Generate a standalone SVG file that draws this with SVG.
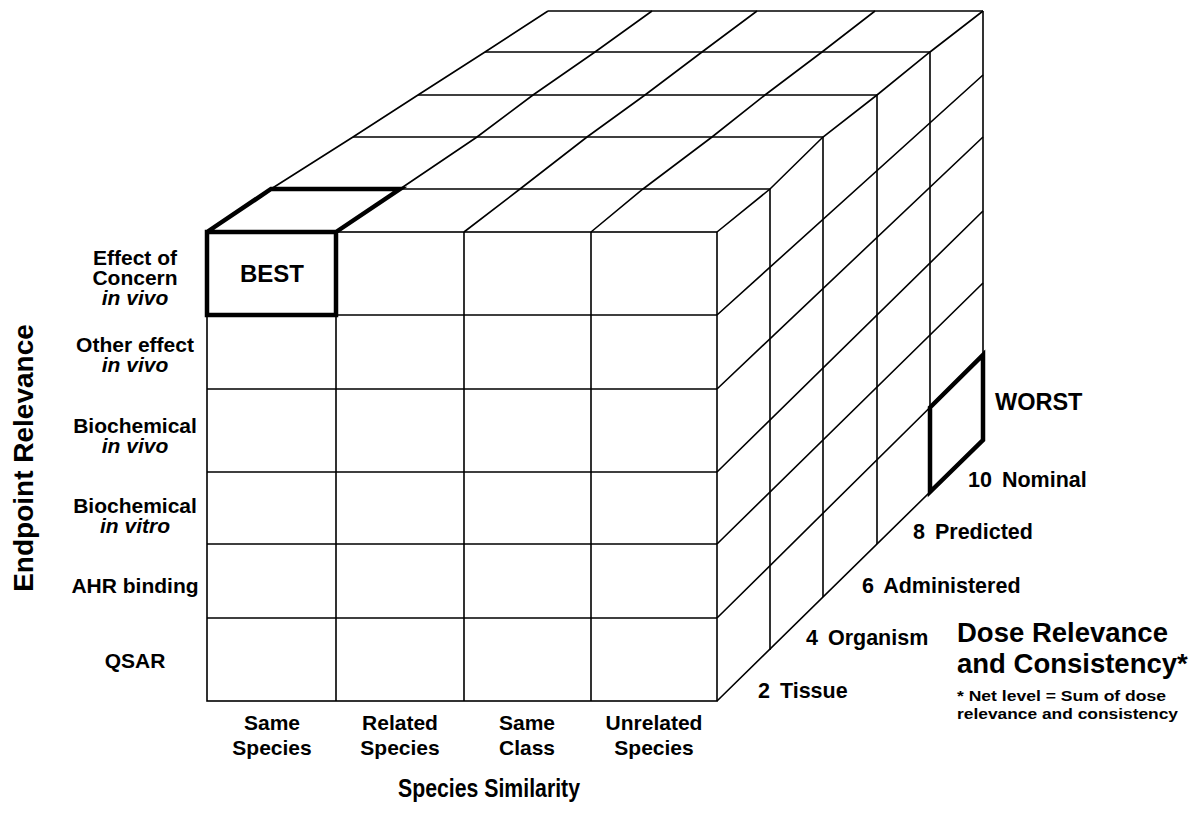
<svg xmlns="http://www.w3.org/2000/svg" width="1192" height="826" viewBox="0 0 1192 826">
<style>
.ln{fill:none;stroke:#000;stroke-width:1.6;stroke-linejoin:miter}
.thk{fill:none;stroke:#000;stroke-width:4.5;stroke-linejoin:miter}
text{font-family:"Liberation Sans",Arial,Helvetica,sans-serif;font-weight:bold;fill:#000}
.lab{font-size:21px;text-anchor:middle}
.it{font-style:italic}
.dose{font-size:21.5px;word-spacing:4px}
</style>
<rect width="1192" height="826" fill="#fff"/>
<g id="connectors">
<g id="front-face">
<rect class="ln" x="207" y="232" width="510" height="469"/>
<path class="ln" d="M207 315H717M207 389H717M207 472H717M207 544H717M207 618H717"/>
<path class="ln" d="M336 232V701M464 232V701M591 232V701"/>
</g>
<g id="top-face">
<path class="ln" d="M271 189H770M353 137H823M418 95H877M485 52H930M548 11H983"/>
<polyline class="ln" points="207,232 271,189 353,137 418,95 485,52 548,11"/>
<polyline class="ln" points="336,232 400,189 477,137 533,95 595,52 652,11"/>
<polyline class="ln" points="464,232 520,189 587,137 645,95 702,52 757,11"/>
<polyline class="ln" points="591,232 643,189 712,137 765,95 822,52 875,11"/>
<polyline class="ln" points="717,232 770,189 823,137 877,95 930,52 983,11"/>
</g>
<g id="right-face">
<path class="ln" d="M770 189V650M823 137V597M877 95V544M930 52V492M983 11V440"/>
<path class="ln" d="M717 315L983 75M717 389L983 137M717 472L983 211M717 544L983 283M717 618L983 355M717 701L983 440"/>
</g>
</g>
<g id="best">
<path class="thk" d="M207 232H336V315H207Z M207 232L271 189H400L336 232"/>
<text x="272" y="282" style="font-size:24px" text-anchor="middle">BEST</text>
</g>
<g id="worst">
<path class="thk" d="M930 407.5L983 355V440L930 492Z"/>
<text x="995" y="410" style="font-size:23.5px">WORST</text>
</g>
<g id="endpoint-labels">
<text class="lab" x="135" y="265">Effect of</text>
<text class="lab" x="135" y="285">Concern</text>
<text class="lab it" x="135" y="305">in vivo</text>
<text class="lab" x="135" y="352">Other effect</text>
<text class="lab it" x="135" y="372">in vivo</text>
<text class="lab" x="135" y="433">Biochemical</text>
<text class="lab it" x="135" y="453">in vivo</text>
<text class="lab" x="135" y="513">Biochemical</text>
<text class="lab it" x="135" y="533">in vitro</text>
<text class="lab" x="135" y="593">AHR binding</text>
<text class="lab" x="135" y="668">QSAR</text>
</g>
<g id="species-labels">
<text class="lab" x="272" y="730">Same</text>
<text class="lab" x="272" y="755">Species</text>
<text class="lab" x="400" y="730">Related</text>
<text class="lab" x="400" y="755">Species</text>
<text class="lab" x="527" y="730">Same</text>
<text class="lab" x="527" y="755">Class</text>
<text class="lab" x="654" y="730">Unrelated</text>
<text class="lab" x="654" y="755">Species</text>
</g>
<g id="dose-labels">
<text class="dose" x="968" y="487">10 Nominal</text>
<text class="dose" x="913" y="539">8 Predicted</text>
<text class="dose" x="862" y="593">6 Administered</text>
<text class="dose" x="806" y="645">4 Organism</text>
<text class="dose" x="758" y="698">2 Tissue</text>
</g>
<g id="axis-titles">
<text x="398" y="797" style="font-size:26px" textLength="182" lengthAdjust="spacingAndGlyphs">Species Similarity</text>
<text transform="translate(33 458) rotate(-90)" style="font-size:28px" text-anchor="middle">Endpoint Relevance</text>
<text x="957" y="642" style="font-size:27.5px">Dose Relevance</text>
<text x="957" y="673" style="font-size:27.5px">and Consistency*</text>
<text x="957" y="701" style="font-size:15px" textLength="209" lengthAdjust="spacingAndGlyphs">* Net level = Sum of dose</text>
<text x="957" y="719" style="font-size:15px" textLength="221" lengthAdjust="spacingAndGlyphs">relevance and consistency</text>
</g>
</svg>
